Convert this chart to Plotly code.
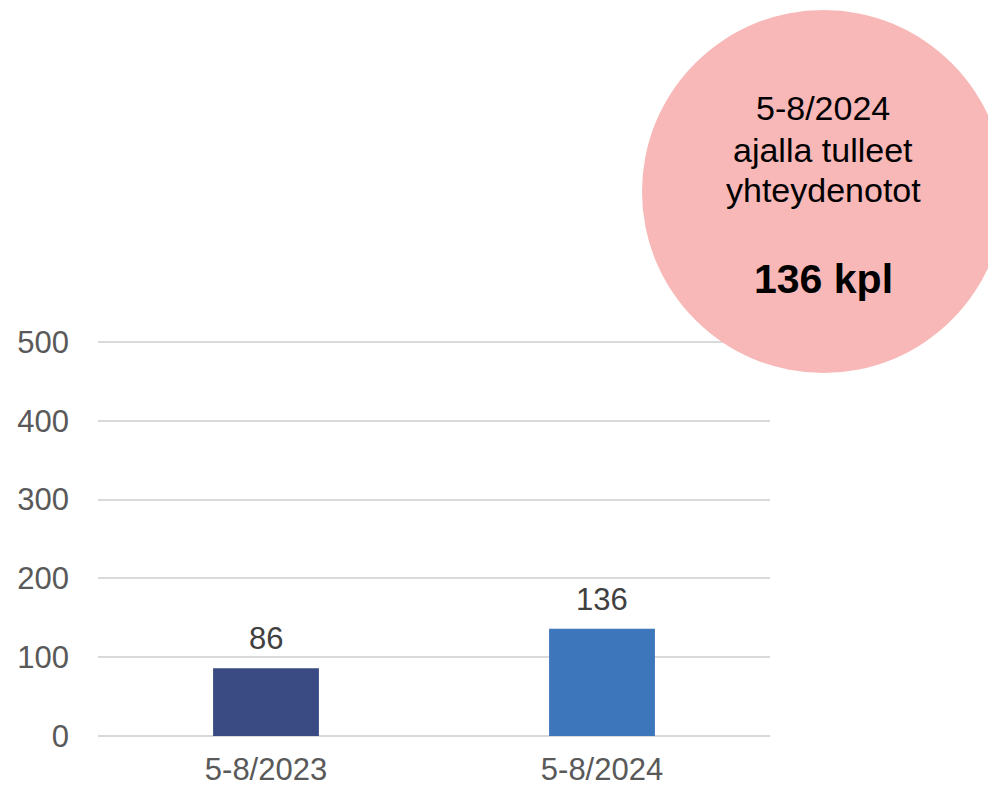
import plotly.graph_objects as go

# Contacts received during May–August, year over year
periods = ["5-8/2023", "5-8/2024"]
contacts = [86, 136]
bar_colors = ["#3A4A82", "#3D76BB"]
y_ticks = [0, 100, 200, 300, 400, 500]

FONT = "Liberation Sans, Arial, sans-serif"

fig = go.Figure()
fig.add_trace(go.Bar(
    x=periods,
    y=contacts,
    marker=dict(color=bar_colors, line=dict(width=0)),
    width=0.315,
    hoverinfo="skip",
))

# value labels above each bar
for p, v in zip(periods, contacts):
    fig.add_annotation(
        x=p, y=v, xref="x", yref="y",
        text=str(v), showarrow=False,
        yanchor="bottom", yshift=10,
        font=dict(family=FONT, size=31, color="#404040"),
    )

# highlight bubble with the latest period total
fig.add_shape(
    type="circle", xref="paper", yref="paper",
    x0=0.8095, x1=1.3497, y0=0.912, y1=1.824,
    fillcolor="#F8B8B8", line=dict(width=0), layer="above",
)

latest_period = periods[-1]
latest_value = contacts[-1]
bubble_cx = 1.0796
bubble_lines = [latest_period, "ajalla tulleet", "yhteydenotot"]
bubble_y = [1.578, 1.473, 1.372]
for txt, yy in zip(bubble_lines, bubble_y):
    fig.add_annotation(
        x=bubble_cx, y=yy, xref="paper", yref="paper",
        text=txt, showarrow=False, xanchor="center", yanchor="middle",
        font=dict(family=FONT, size=34, color="#000000"),
    )
fig.add_annotation(
    x=bubble_cx, y=1.149, xref="paper", yref="paper",
    text=f"<b>{latest_value} kpl</b>", showarrow=False,
    xanchor="center", yanchor="middle",
    font=dict(family=FONT, size=41, color="#000000"),
)

fig.update_layout(
    width=988, height=787,
    margin=dict(l=98, r=218, t=338, b=51),
    plot_bgcolor="white", paper_bgcolor="white",
    showlegend=False,
    xaxis=dict(
        range=[-0.5, 1.5],
        showgrid=False, showline=False, zeroline=False,
        ticks="", ticklabelstandoff=12, automargin=False,
        tickfont=dict(family=FONT, size=31, color="#595959"),
        fixedrange=True,
    ),
    yaxis=dict(
        range=[0, 505],
        tickvals=y_ticks,
        showgrid=True, gridcolor="#D9D9D9", gridwidth=1.5,
        zeroline=True, zerolinecolor="#D9D9D9", zerolinewidth=1.5,
        showline=False, ticks="", ticklabelstandoff=28, automargin=False,
        tickfont=dict(family=FONT, size=31, color="#595959"),
        fixedrange=True,
    ),
)

fig.write_html("out.html")
